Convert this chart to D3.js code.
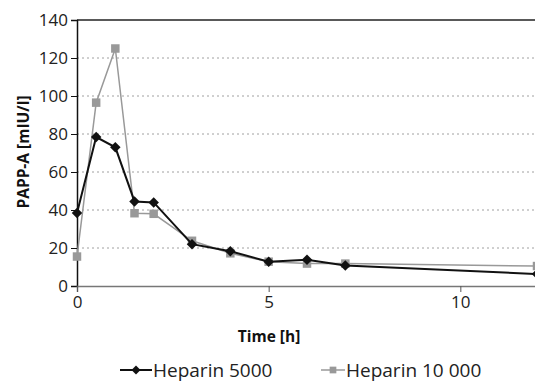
<!DOCTYPE html>
<html>
<head>
<meta charset="utf-8">
<script src="https://cdn.jsdelivr.net/npm/d3@7"></script>
<style>
  body { margin: 0; background: #fff; }
  svg { display: block; font-family: "Open Sans", "Noto Sans", sans-serif; }
</style>
</head>
<body>
<div id="chart"></div>
<script>
// Zeitpunkte (h)
const hours = [0, 0.5, 1, 1.5, 2, 3, 4, 5, 6, 7, 12];
// PAPP-A Werte
const heparin5000 = [38.4, 78.4, 73, 44.5, 44, 22, 18.3, 12.8, 13.8, 10.8, 6.3];
const heparin10000 = [15.5, 96.5, 125, 38.3, 38, 23.8, 17.2, 12.8, 11.8, 11.8, 10.5];
const seriesNames = ["Heparin 5000", "Heparin 10 000"];
const yTicks = [0, 20, 40, 60, 80, 100, 120, 140];
const xTicks = [0, 5, 10];

const width = 535, height = 382;
const plotLeft = 77, plotRight = 537, plotTop = 20, plotBottom = 286;

const svg = d3.select("#chart").append("svg")
  .attr("width", width).attr("height", height);

const x = d3.scaleLinear().domain([0, 12]).range([plotLeft, plotRight]);
const y = d3.scaleLinear().domain([0, 140]).range([plotBottom, plotTop]);

// Gitterlinien
svg.append("g").selectAll("line")
  .data(yTicks.filter(d => d > 0 && d < 140))
  .join("line")
  .attr("x1", plotLeft).attr("x2", width)
  .attr("y1", d => y(d)).attr("y2", d => y(d))
  .attr("stroke", "#a0a0a0").attr("stroke-width", 1)
  .attr("stroke-dasharray", "2,3");

// obere Linie
svg.append("line")
  .attr("x1", plotLeft).attr("x2", width)
  .attr("y1", y(140)).attr("y2", y(140))
  .attr("stroke", "#222").attr("stroke-width", 1.3);

// y-Achse
const yAxis = svg.append("g")
  .attr("transform", `translate(${plotLeft},0)`)
  .call(d3.axisLeft(y).tickValues(yTicks).tickSize(6).tickPadding(3));
yAxis.select(".domain").attr("stroke", "#111").attr("stroke-width", 1.5);
yAxis.selectAll(".tick line").attr("stroke", "#111");
yAxis.selectAll("text").attr("font-size", 17).attr("fill", "#222")
  .attr("font-family", "Open Sans, sans-serif");

// x-Achse
const xAxis = svg.append("g")
  .attr("transform", `translate(0,${plotBottom})`)
  .call(d3.axisBottom(x).tickValues(xTicks).tickSize(6).tickPadding(4));
xAxis.select(".domain").attr("stroke", "#777").attr("stroke-width", 1.5);
xAxis.selectAll(".tick line").attr("stroke", "#555");
xAxis.selectAll("text").attr("font-size", 17).attr("fill", "#222")
  .attr("font-family", "Open Sans, sans-serif");

// Achsentitel
svg.append("text")
  .attr("x", 269).attr("y", 342)
  .attr("text-anchor", "middle")
  .attr("font-size", 15.5).attr("font-weight", "bold").attr("fill", "#111")
  .text("Time [h]");
svg.append("text")
  .attr("transform", `translate(29,152) rotate(-90)`)
  .attr("text-anchor", "middle")
  .attr("font-size", 15.5).attr("font-weight", "bold").attr("fill", "#111")
  .text("PAPP-A [mIU/l]");

const line = d3.line().x((d, i) => x(hours[i])).y(d => y(d));

const series = [
  { values: heparin10000, color: "#999999", width: 1.5, symbol: d3.symbolSquare, size: 72, rot: 0 },
  { values: heparin5000, color: "#111111", width: 2, symbol: d3.symbolSquare, size: 55, rot: 45 }
];

series.forEach(s => {
  svg.append("path")
    .attr("d", line(s.values))
    .attr("fill", "none")
    .attr("stroke", s.color)
    .attr("stroke-width", s.width);
  svg.append("g").selectAll("path")
    .data(s.values)
    .join("path")
    .attr("transform", (d, i) => `translate(${x(hours[i])},${y(d)}) rotate(${s.rot})`)
    .attr("d", d3.symbol().type(s.symbol).size(s.size))
    .attr("fill", s.color);
});

// Legende
const legend = [
  { name: seriesNames[0], color: "#111111", width: 2, symbol: d3.symbolSquare, size: 40, rot: 45, x0: 120, x1: 152, tx: 153 },
  { name: seriesNames[1], color: "#999999", width: 1.5, symbol: d3.symbolSquare, size: 45, rot: 0, x0: 321, x1: 345, tx: 346 }
];
legend.forEach(l => {
  const ly = 370;
  svg.append("line")
    .attr("x1", l.x0).attr("x2", l.x1).attr("y1", ly).attr("y2", ly)
    .attr("stroke", l.color).attr("stroke-width", l.width);
  svg.append("path")
    .attr("transform", `translate(${(l.x0 + l.x1) / 2},${ly}) rotate(${l.rot})`)
    .attr("d", d3.symbol().type(l.symbol).size(l.size))
    .attr("fill", l.color);
  svg.append("text")
    .attr("x", l.tx).attr("y", ly + 7)
    .attr("font-size", 19).attr("fill", "#222")
    .text(l.name);
});
</script>
</body>
</html>
